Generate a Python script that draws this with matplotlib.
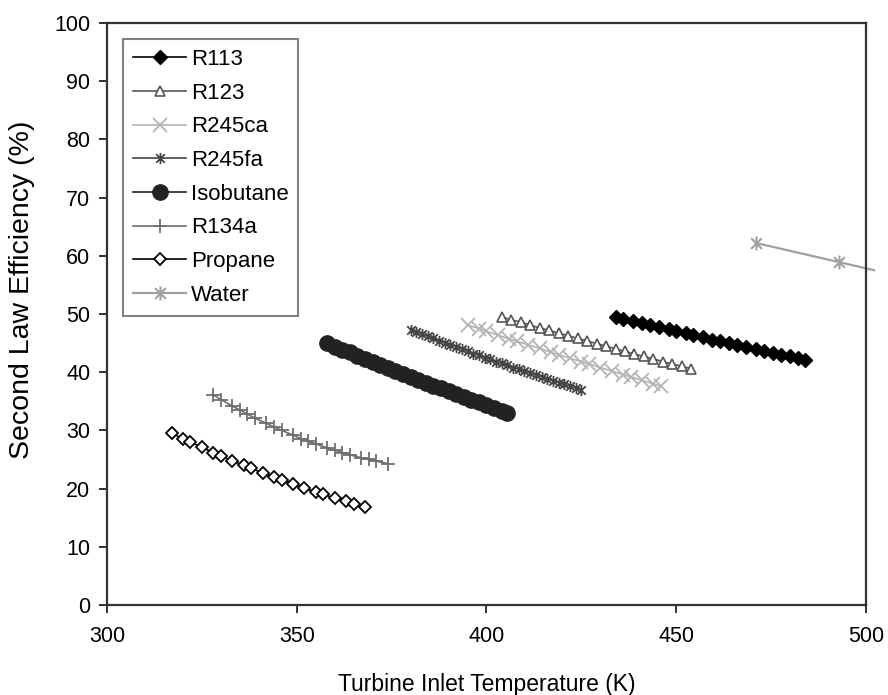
import matplotlib
matplotlib.use("Agg")
import matplotlib.pyplot as plt
from matplotlib.path import Path
from matplotlib.patches import Rectangle

plt.rcParams["font.family"] = ["Liberation Sans", "DejaVu Sans"]

# turbine inlet temperature (K) and second-law efficiency (%) per working fluid
r113_t = [434, 436, 438.5, 441, 443, 445.5, 448, 450, 452.5, 454.5, 457, 459.5,
          461.5, 464, 466, 468.5, 471, 473, 475.5, 477.5, 480, 482, 484]
r113_eff = [49.5, 49.2, 48.8, 48.4, 48.1, 47.7, 47.4, 47.0, 46.7, 46.4, 46.0, 45.6,
            45.3, 45.0, 44.7, 44.3, 44.0, 43.7, 43.3, 43.0, 42.7, 42.4, 42.1]

r123_t = [404, 406.5, 409, 411.5, 414, 416.5, 419, 421.5, 424, 426.5, 429, 431.5,
          434, 436.5, 439, 441.5, 444, 446.5, 449, 451.5, 454]
r123_eff = [49.5, 49.0, 48.6, 48.1, 47.6, 47.2, 46.7, 46.3, 45.8, 45.4, 44.9, 44.5,
            44.0, 43.6, 43.1, 42.7, 42.3, 41.8, 41.4, 41.0, 40.6]

r245ca_t = [395, 398, 400, 403, 406, 408, 411, 414, 417, 419, 422, 425, 427, 430,
            433, 436, 438, 441, 444, 446]
r245ca_eff = [48.1, 47.5, 47.0, 46.4, 45.7, 45.3, 44.7, 44.1, 43.4, 43.0, 42.4, 41.8,
              41.4, 40.8, 40.2, 39.6, 39.2, 38.6, 38.0, 37.6]

r245fa_t = [380, 381.5, 383, 384.5, 386, 387.5, 389, 390.5, 392, 393.5, 395, 396.5,
            398, 399.5, 401, 402.5, 404, 405.5, 407, 408.5, 410, 411.5, 413, 414.5,
            416, 417.5, 419, 420.5, 422, 423.5, 425]
r245fa_eff = [47.3, 46.9, 46.5, 46.2, 45.8, 45.4, 45.0, 44.7, 44.3, 44.0, 43.6, 43.2,
              42.9, 42.5, 42.2, 41.8, 41.5, 41.2, 40.8, 40.5, 40.2, 39.8, 39.5, 39.2,
              38.9, 38.5, 38.2, 37.9, 37.6, 37.3, 37.0]

isobutane_t = [358, 360, 362, 364, 366, 368, 370, 372, 374, 376, 378, 380, 382,
               384, 386, 388, 390, 392, 394, 396, 398, 400, 402, 404, 405.5]
isobutane_eff = [45.0, 44.4, 43.9, 43.4, 42.8, 42.3, 41.7, 41.2, 40.7, 40.2, 39.7,
                 39.2, 38.7, 38.2, 37.7, 37.2, 36.7, 36.2, 35.8, 35.3, 34.8, 34.4,
                 33.9, 33.4, 33.0]

r134a_t = [328, 330, 333, 335, 337, 339, 342, 344, 346, 349, 351, 353, 355, 358,
           360, 362, 364, 367, 369, 371, 374]
r134a_eff = [36.1, 35.3, 34.2, 33.5, 32.8, 32.1, 31.2, 30.6, 30.0, 29.2, 28.6, 28.1,
             27.7, 27.0, 26.6, 26.2, 25.8, 25.3, 25.0, 24.7, 24.3]

propane_t = [317, 320, 322, 325, 328, 330, 333, 336, 338, 341, 344, 346, 349, 352,
             355, 357, 360, 363, 365, 368]
propane_eff = [29.5, 28.6, 28.0, 27.1, 26.2, 25.6, 24.8, 24.0, 23.5, 22.7, 22.0, 21.5,
               20.8, 20.1, 19.4, 19.0, 18.4, 17.8, 17.4, 16.9]

water_t = [471, 493, 515]
water_eff = [62.2, 58.9, 55.6]

# Excel-style star marker: an "x" with a vertical bar through it
star = Path([(-1, -1), (1, 1), (-1, 1), (1, -1), (0, -1.3), (0, 1.3)],
            [Path.MOVETO, Path.LINETO, Path.MOVETO, Path.LINETO,
             Path.MOVETO, Path.LINETO])

fig = plt.figure(figsize=(8.88, 6.95), dpi=100)
ax = fig.add_axes([0.1205, 0.1295, 0.8547, 0.8374])

ax.plot(r113_t, r113_eff, color="black", lw=1.2, marker="D", ms=7.5,
        mfc="black", mec="black", label="R113")
ax.plot(r123_t, r123_eff, color="#555555", lw=1.2, marker="^", ms=6.5,
        mfc="white", mec="#555555", mew=1.2, label="R123")
ax.plot(r245ca_t, r245ca_eff, color="#b4b4b4", lw=1.2, marker="x", ms=10,
        mec="#b4b4b4", mew=1.3, label="R245ca")
ax.plot(r245fa_t, r245fa_eff, color="#444444", lw=1.2, marker=star, ms=8,
        mec="#444444", mew=1.3, label="R245fa")
ax.plot(isobutane_t, isobutane_eff, color="#222222", lw=1.2, marker="o", ms=11,
        mfc="#222222", mec="#222222", label="Isobutane")
ax.plot(r134a_t, r134a_eff, color="#6e6e6e", lw=1.2, marker="+", ms=10,
        mec="#6e6e6e", mew=1.3, label="R134a")
ax.plot(propane_t, propane_eff, color="black", lw=1.2, marker="D", ms=6.3,
        mfc="white", mec="black", mew=1.3, label="Propane")
water, = ax.plot(water_t, water_eff, color="#a0a0a0", lw=1.6, marker=star, ms=10,
                 mec="#a0a0a0", mew=1.5, label="Water")
water.set_clip_path(Rectangle((0, 0), 1.012, 1, transform=ax.transAxes))

ax.set_xlim(300, 500)
ax.set_ylim(0, 100)
ax.set_xticks([300, 350, 400, 450, 500])
ax.set_yticks(range(0, 101, 10))
for side in ("left", "bottom", "top", "right"):
    ax.spines[side].set_linewidth(1.6)
    ax.spines[side].set_color("#333333")
ax.tick_params(axis="both", labelsize=15.5, length=6, width=1.4, color="#333333",
               direction="out")
ax.tick_params(axis="x", pad=9)
ax.tick_params(axis="y", pad=6)

ax.set_xlabel("Turbine Inlet Temperature (K)", fontsize=16.5, labelpad=19)
ax.set_ylabel("Second Law Efficiency (%)", fontsize=20.5)
ax.yaxis.set_label_coords(-0.095, 0.541)

leg = ax.legend(loc="upper left", bbox_to_anchor=(0.021, 0.9725),
                borderaxespad=0, fontsize=16, handlelength=2.4,
                labelspacing=0.57, handletextpad=0.2, borderpad=0.45,
                fancybox=False, framealpha=1, edgecolor="#808080")
leg.get_frame().set_linewidth(1.5)

fig.savefig("out.png", dpi=100)
